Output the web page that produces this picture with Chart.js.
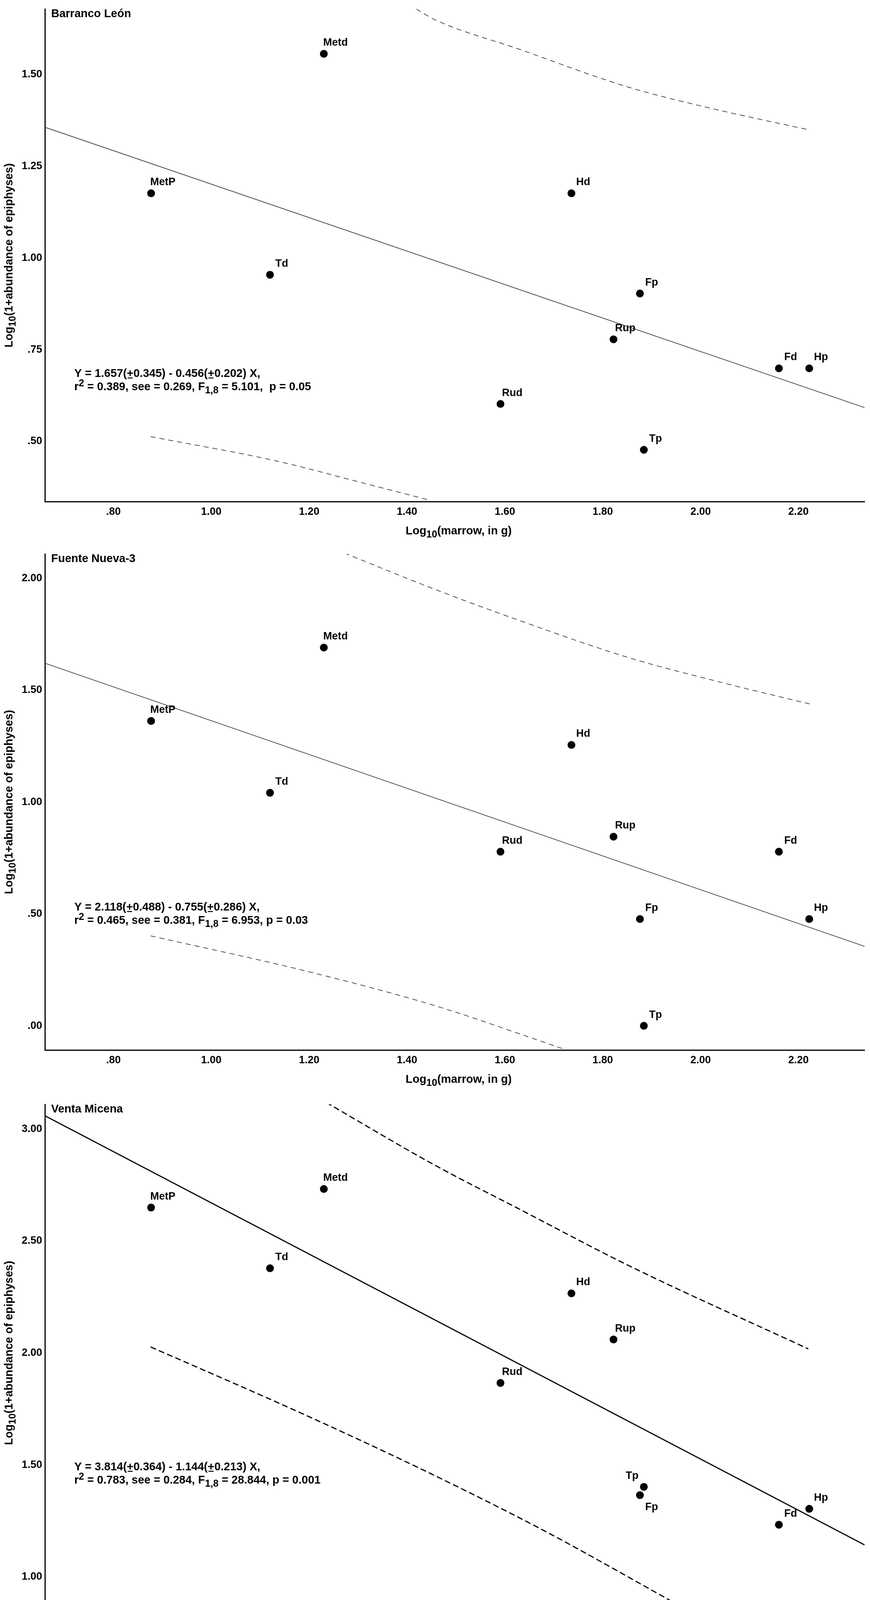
<!DOCTYPE html>
<html lang="en">
<head>
<meta charset="UTF-8">
<title>Epiphyses vs marrow</title>
<script src="https://cdn.jsdelivr.net/npm/chart.js"></script>
<style>
  body { margin: 0; background: #fff; }
  .panel { position: absolute; left: 0; }
</style>
</head>
<body>
<div class="panel" style="top:0px"><canvas id="bl" width="2228" height="1395"></canvas></div>
<div class="panel" style="top:1395px"><canvas id="fn" width="2228" height="1405"></canvas></div>
<div class="panel" style="top:2800px"><canvas id="vm" width="2228" height="1416"></canvas></div>

<script>
// skeletal elements and their log10 marrow weight (same for every site)
const elements = ['MetP', 'Td', 'Metd', 'Rud', 'Hd', 'Rup', 'Fp', 'Tp', 'Fd', 'Hp'];
const marrowLog = [0.877, 1.120, 1.230, 1.591, 1.736, 1.822, 1.876, 1.884, 2.160, 2.222];

const xTicks = [0.8, 1.0, 1.2, 1.4, 1.6, 1.8, 2.0, 2.2];
const xTickLabels = ['.80', '1.00', '1.20', '1.40', '1.60', '1.80', '2.00', '2.20'];
const xTickLabelsVM = ['.80', '1.00', '1.20', '1.40', '1.60', '1.80', '2,00', '2,20'];

// Barranco León
const blEpiphyses = [1.176, 0.954, 1.556, 0.602, 1.176, 0.778, 0.903, 0.477, 0.699, 0.699];
const blFitX = [0.66, 2.335];
const blFitY = [1.356, 0.592];
const blUpperX = [1.419, 1.457, 1.626, 1.853, 2.023, 2.221];
const blUpperY = [1.678, 1.649, 1.570, 1.465, 1.407, 1.349];
const blLowerX = [0.876, 1.135, 1.306, 1.446];
const blLowerY = [0.513, 0.446, 0.388, 0.340];
const blYTicks = [0.50, 0.75, 1.00, 1.25, 1.50];
const blYTickLabels = ['.50', '.75', '1.00', '1.25', '1.50'];

// Fuente Nueva-3
const fnEpiphyses = [1.362, 1.041, 1.690, 0.778, 1.255, 0.845, 0.477, 0.000, 0.778, 0.477];
const fnFitX = [0.66, 2.335];
const fnFitY = [1.620, 0.355];
const fnUpperX = [1.272, 1.457, 1.627, 1.853, 2.052, 2.223];
const fnUpperY = [2.112, 1.950, 1.813, 1.645, 1.529, 1.438];
const fnLowerX = [0.876, 1.193, 1.457, 1.718];
const fnLowerY = [0.402, 0.245, 0.090, -0.102];
const fnYTicks = [0.00, 0.50, 1.00, 1.50, 2.00];
const fnYTickLabels = ['.00', '.50', '1.00', '1.50', '2.00'];

// Venta Micena
const vmEpiphyses = [2.649, 2.378, 2.732, 1.866, 2.266, 2.060, 1.365, 1.402, 1.233, 1.304];
const vmFitX = [0.66, 2.335];
const vmFitY = [3.059, 1.143];
const vmUpperX = [1.235, 1.457, 1.627, 1.853, 2.220];
const vmUpperY = [3.118, 2.838, 2.645, 2.390, 2.018];
const vmLowerX = [0.876, 1.193, 1.457, 1.684, 1.937];
const vmLowerY = [2.027, 1.722, 1.452, 1.202, 0.896];
const vmYTicks = [1.00, 1.50, 2.00, 2.50, 3.00];
const vmYTickLabels = ['1.00', '1.50', '2.00', '2.50', '3.00'];

const FONT = '"Liberation Sans", Arial, sans-serif';
Chart.defaults.font.family = FONT;

const xTitle = [{ t: 'Log' }, { t: '10', sub: true }, { t: '(marrow, in g)' }];
const yTitle = [{ t: 'Log' }, { t: '10', sub: true }, { t: '(1+abundance of epiphyses)' }];

function pts(xs, ys) {
  return xs.map((x, i) => ({ x: x, y: ys[i] }));
}

// text with sub/superscripts and underlined pieces
function drawRich(ctx, segs, x, y, size, align) {
  const fontOf = s => 'bold ' + (s.sub || s.sup ? Math.round(size * 0.85) : size) + 'px ' + FONT;
  let total = 0;
  segs.forEach(s => { ctx.font = fontOf(s); total += ctx.measureText(s.t).width; });
  let cx = align === 'center' ? x - total / 2 : x;
  ctx.textAlign = 'left';
  ctx.textBaseline = 'middle';
  segs.forEach(s => {
    ctx.font = fontOf(s);
    const dy = s.sub ? size * 0.32 : s.sup ? -size * 0.3 : 0;
    ctx.fillText(s.t, cx, y + dy);
    const w = ctx.measureText(s.t).width;
    if (s.u) ctx.fillRect(cx + 2, y + size * 0.32, w - 4, 2.5);
    cx += w;
  });
}

const panelText = {
  id: 'panelText',
  afterDatasetsDraw(chart, args, opts) {
    const ctx = chart.ctx, area = chart.chartArea;
    const xs = chart.scales.x, ys = chart.scales.y;
    ctx.save();
    ctx.fillStyle = '#000';

    ctx.font = 'bold 29px ' + FONT;
    ctx.textAlign = 'left';
    ctx.textBaseline = 'middle';
    ctx.fillText(opts.title, area.left + 16, area.top + 13);

    ctx.font = 'bold 27px ' + FONT;
    ctx.textAlign = 'center';
    chart.getDatasetMeta(0).data.forEach((p, i) => {
      const place = (opts.place && opts.place[elements[i]]) || 'ur';
      const dx = place === 'ul' ? -30 : 30;
      const dy = place === 'lr' ? 31 : -28;
      ctx.fillText(elements[i], p.x + dx, p.y + dy);
    });

    const nx = xs.getPixelForValue(opts.note.x);
    const ny = ys.getPixelForValue(opts.note.y);
    drawRich(ctx, opts.note.lines[0], nx, ny, 29, 'left');
    drawRich(ctx, opts.note.lines[1], nx, ny + 34, 29, 'left');

    drawRich(ctx, xTitle, (area.left + area.right) / 2 + 10, area.bottom + 76, 29, 'center');
    ctx.translate(24, (area.top + area.bottom) / 2);
    ctx.rotate(-Math.PI / 2);
    drawRich(ctx, yTitle, 0, 0, 29, 'center');
    ctx.restore();
  }
};

function makePanel(id, c) {
  const bold = { size: 27, weight: 'bold', family: FONT };
  return new Chart(document.getElementById(id), {
    type: 'scatter',
    data: {
      datasets: [
        { data: pts(marrowLog, c.values), backgroundColor: '#000', borderWidth: 0, pointRadius: 10 },
        { data: pts(c.fitX, c.fitY), showLine: true, pointRadius: 0, borderColor: c.lineColor, borderWidth: c.lineWidth },
        { data: pts(c.upX, c.upY), showLine: true, pointRadius: 0, borderColor: c.lineColor, borderWidth: c.lineWidth,
          borderDash: c.dash, cubicInterpolationMode: 'monotone' },
        { data: pts(c.loX, c.loY), showLine: true, pointRadius: 0, borderColor: c.lineColor, borderWidth: c.lineWidth,
          borderDash: c.dash, cubicInterpolationMode: 'monotone' }
      ]
    },
    options: {
      responsive: false,
      animation: false,
      devicePixelRatio: 1,
      layout: { padding: { top: c.padTop, right: 14, left: 0, bottom: 0 } },
      plugins: {
        legend: { display: false },
        tooltip: { enabled: false },
        panelText: { title: c.title, note: c.note, place: c.place }
      },
      scales: {
        x: {
          type: 'linear', min: 0.66, max: 2.335,
          grid: { display: false, drawTicks: false },
          border: { display: true, color: '#000', width: 3 },
          afterBuildTicks: s => { s.ticks = xTicks.map(v => ({ value: v })); },
          afterFit: s => { s.height = c.xHeight; },
          ticks: { autoSkip: false, maxRotation: 0, padding: 10, color: '#000', font: bold,
                   callback: (v, i) => c.xLabels[i] }
        },
        y: {
          type: 'linear', min: c.yMin, max: c.yMax,
          grid: { display: false, drawTicks: false },
          border: { display: true, color: '#000', width: 3 },
          afterBuildTicks: s => { s.ticks = c.yTicks.map(v => ({ value: v })); },
          afterFit: s => { s.width = 115; },
          ticks: { padding: 7, color: '#000', font: bold, callback: (v, i) => c.yLabels[i] }
        }
      }
    },
    plugins: [panelText]
  });
}

makePanel('bl', {
  title: 'Barranco León', values: blEpiphyses,
  fitX: blFitX, fitY: blFitY, upX: blUpperX, upY: blUpperY, loX: blLowerX, loY: blLowerY,
  yMin: 0.336, yMax: 1.678, yTicks: blYTicks, yLabels: blYTickLabels, xLabels: xTickLabels,
  lineColor: '#444', lineWidth: 1.8, dash: [13, 10], padTop: 0, xHeight: 111,
  note: { x: 0.72, y: 0.684, lines: [
    [{ t: 'Y = 1.657(' }, { t: '+', u: true }, { t: '0.345) - 0.456(' }, { t: '+', u: true }, { t: '0.202) X,' }],
    [{ t: 'r' }, { t: '2', sup: true }, { t: ' = 0.389, see = 0.269, F' }, { t: '1,8', sub: true }, { t: ' = 5.101,  p = 0.05' }]
  ] }
});

makePanel('fn', {
  title: 'Fuente Nueva-3', values: fnEpiphyses,
  fitX: fnFitX, fitY: fnFitY, upX: fnUpperX, upY: fnUpperY, loX: fnLowerX, loY: fnLowerY,
  yMin: -0.108, yMax: 2.108, yTicks: fnYTicks, yLabels: fnYTickLabels, xLabels: xTickLabels,
  lineColor: '#444', lineWidth: 1.8, dash: [13, 10], padTop: 19, xHeight: 112,
  note: { x: 0.72, y: 0.529, lines: [
    [{ t: 'Y = 2.118(' }, { t: '+', u: true }, { t: '0.488) - 0.755(' }, { t: '+', u: true }, { t: '0.286) X,' }],
    [{ t: 'r' }, { t: '2', sup: true }, { t: ' = 0.465, see = 0.381, F' }, { t: '1,8', sub: true }, { t: ' = 6.953, p = 0.03' }]
  ] }
});

makePanel('vm', {
  title: 'Venta Micena', values: vmEpiphyses,
  fitX: vmFitX, fitY: vmFitY, upX: vmUpperX, upY: vmUpperY, loX: vmLowerX, loY: vmLowerY,
  yMin: 0.89, yMax: 3.11, yTicks: vmYTicks, yLabels: vmYTickLabels, xLabels: xTickLabelsVM,
  lineColor: '#000', lineWidth: 3, dash: [15, 8], padTop: 27, xHeight: 116,
  place: { Tp: 'ul', Fp: 'lr' },
  note: { x: 0.72, y: 1.49, lines: [
    [{ t: 'Y = 3.814(' }, { t: '+', u: true }, { t: '0.364) - 1.144(' }, { t: '+', u: true }, { t: '0.213) X,' }],
    [{ t: 'r' }, { t: '2', sup: true }, { t: ' = 0.783, see = 0.284, F' }, { t: '1,8', sub: true }, { t: ' = 28.844, p = 0.001' }]
  ] }
});
</script>
</body>
</html>
